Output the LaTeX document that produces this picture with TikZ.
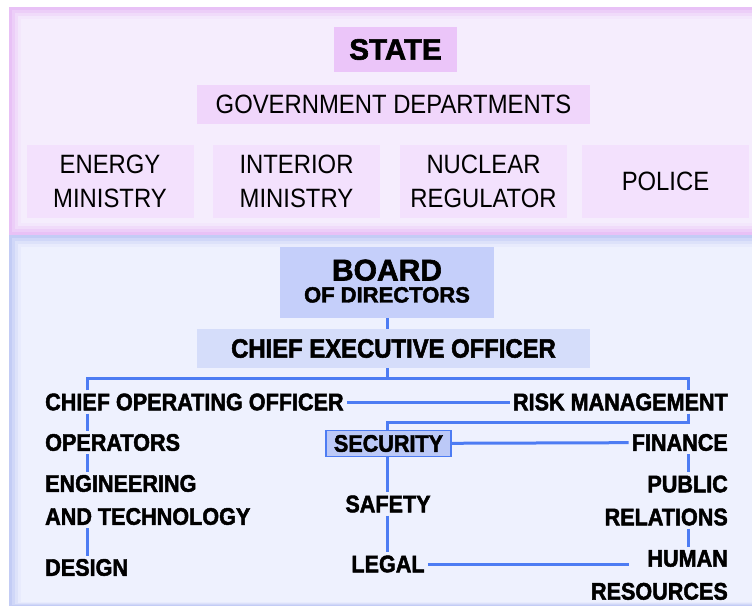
\documentclass[tikz,border=0pt]{standalone}
\usepackage{fontspec}
\setmainfont{Liberation Sans}[FakeStretch=0.9, BoldFeatures={FakeBold=2}]
\newfontfamily\headfont{Liberation Sans}[BoldFeatures={FakeBold=2}]
\usepackage{tikz}
\usetikzlibrary{positioning, calc}
\definecolor{pinkpanel}{HTML}{F5EDFD}
\definecolor{pinkedge}{HTML}{E8C1F6}
\definecolor{statefill}{HTML}{EBC5F9}
\definecolor{govfill}{HTML}{F0D6FB}
\definecolor{deptfill}{HTML}{F3E1FD}
\definecolor{bluepanel}{HTML}{EEF1FE}
\definecolor{blueedge}{HTML}{C3CCF5}
\definecolor{boardfill}{HTML}{C5CFFA}
\definecolor{ceofill}{HTML}{D5DDFA}
\definecolor{secfill}{HTML}{BCC9F7}
\definecolor{linkblue}{HTML}{4D7CF3}

\begin{document}
\begin{tikzpicture}[x=1pt, y=-1pt,
    box/.style={inner sep=0pt, align=center},
    deptbox/.style={box, fill=deptfill, minimum width=167pt, minimum height=73pt, font=\fontsize{26.5}{34}\selectfont},
    unit/.style={inner sep=3pt, font=\fontsize{24}{33}\selectfont\bfseries},
    link/.style={draw=linkblue, line width=3pt}]
    \useasboundingbox (0,0) rectangle (752,608);
    % state and company panels, soft edges
    \fill[pinkedge] (9,7) rectangle (752,235);
    \foreach \d/\p in {3/30,6/60,9/85,12/100}
        \fill[pinkpanel!\p!pinkedge] (9+\d,7+\d) rectangle (752,235-\d);
    \fill[blueedge] (9,235) rectangle (752,606);
    \foreach \d/\p in {3/30,6/60,9/85,12/100}
        \fill[bluepanel!\p!blueedge] (9+\d,235+\d) rectangle (752,606-\d/3);

    % state side
    \node[box, fill=statefill, minimum width=123pt, minimum height=45pt, font=\headfont\fontsize{29.5}{32}\selectfont\bfseries] (state) at (395.5,49.5) {STATE};
    \node[box, fill=govfill, minimum width=393pt, minimum height=39pt, font=\fontsize{26.5}{34}\selectfont] (gov) at (393.5,104.5) {GOVERNMENT DEPARTMENTS};
    \node[deptbox] (energy) at (110,181.5) {ENERGY\\MINISTRY};
    \node[deptbox] (interior) at (296.5,181.5) {INTERIOR\\MINISTRY};
    \node[deptbox] (nuclear) at (483.5,181.5) {NUCLEAR\\REGULATOR};
    \node[deptbox] (police) at (665.5,181.5) {POLICE};

    % company side
    \node[box, fill=boardfill, minimum width=214pt, minimum height=71pt, font=\headfont\fontsize{22}{22}\selectfont\bfseries] (board) at (387,282.5) {{\fontsize{30}{22}\selectfont BOARD}\\OF DIRECTORS\rule[-3pt]{0pt}{0pt}};
    \node[box, fill=ceofill, minimum width=393pt, minimum height=39pt, font=\fontsize{26.5}{30}\selectfont\bfseries] (ceo) at (393.5,348.5) {CHIEF EXECUTIVE OFFICER};

    \node[unit, anchor=west] (coo) at (42,402) {CHIEF OPERATING OFFICER};
    \node[unit, anchor=west] (ops) at (42,442.5) {OPERATORS};
    \node[unit, anchor=west, align=left] (eng) at (42,500) {ENGINEERING\\AND TECHNOLOGY};
    \node[unit, anchor=west] (design) at (42,567.5) {DESIGN};

    \node[unit, anchor=east] (risk) at (731,402) {RISK MANAGEMENT};
    \node[unit, anchor=east] (finance) at (731,442.5) {FINANCE};
    \node[unit, anchor=east, align=right] (pub) at (731,500.5) {PUBLIC\\RELATIONS};
    \node[unit, anchor=east, align=right] (human) at (731,575) {HUMAN\\RESOURCES};

    \node[unit, fill=secfill, draw=linkblue, line width=1.5pt, minimum width=125pt, minimum height=26pt, inner sep=0pt] (security) at (388.5,443.5) {SECURITY};
    \node[unit] (safety) at (388,504) {SAFETY};
    \node[unit] (legal) at (388,564) {LEGAL};

    \coordinate (split) at (387,378);
    \coordinate (lx) at (87,378);
    \coordinate (rx) at (688,378);
    \coordinate (rbend) at (688,422.5);

    % reporting lines
    \draw[link] (board.south) -- (ceo.north -| board.south);
    \draw[link] (ceo.south -| split) -- (split);
    \draw[link] (lx |- coo.north) -- (lx) -- (rx) -- (rx |- risk.north);
    \draw[link] (coo) -- (risk);
    \draw[link] (lx |- coo.south) -- (lx |- ops.north);
    \draw[link] (lx |- ops.south) -- (lx |- eng.north);
    \draw[link] (lx |- eng.south) -- (lx |- design.north);
    \draw[link] (rx |- risk.south) -- (rbend) -| (security.north -| split);
    \draw[link] (security) -- (finance);
    \draw[link] (security.south -| split) -- (safety.north -| split);
    \draw[link] (safety.south -| split) -- (legal.north -| split);
    \draw[link] (rx |- finance.south) -- (rx |- pub.north);
    \draw[link] (rx |- pub.south) -- (rx |- human.north);
    \draw[link] (legal.east) -- (legal.east -| finance.west);
\end{tikzpicture}
\end{document}
